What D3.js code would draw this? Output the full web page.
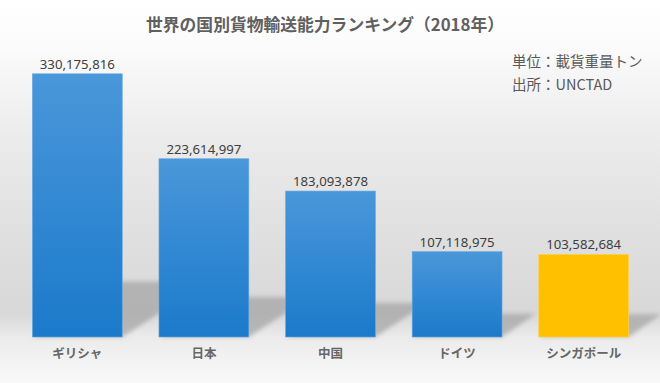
<!DOCTYPE html>
<html><head><meta charset="utf-8">
<script src="https://cdn.jsdelivr.net/npm/d3@7"></script>
<style>html,body{margin:0;padding:0;background:#fff;}svg{display:block;}</style>
</head><body>
<script>
const categories = ["ギリシャ","日本","中国","ドイツ","シンガポール"];
const values = [330175816, 223614997, 183093878, 107118975, 103582684];
const highlight = ["シンガポール"];
const title = "世界の国別貨物輸送能力ランキング（2018年）";
const notes = ["単位：載貨重量トン","出所：UNCTAD"];

const W = 660, H = 383;
const svg = d3.select("body").append("svg").attr("width", W).attr("height", H);
const defs = svg.append("defs");

const bg = defs.append("linearGradient").attr("id","bg").attr("x1",0).attr("y1",0).attr("x2",0).attr("y2",1);
[[0,"#ffffff"],[0.12,"#fbfbfb"],[0.35,"#ececec"],[0.6,"#e0e0e0"],[0.82,"#d8d8d8"],[0.88,"#ebebeb"],[1,"#f9f9f9"]]
  .forEach(([o,c])=>bg.append("stop").attr("offset",o).attr("stop-color",c));
svg.append("rect").attr("width",W).attr("height",H).attr("fill","url(#bg)");

const blue = defs.append("linearGradient").attr("id","blue").attr("x1",0).attr("y1",0).attr("x2",0).attr("y2",1);
blue.append("stop").attr("offset",0).attr("stop-color","#4a97da");
blue.append("stop").attr("offset",1).attr("stop-color","#1b7acb");

const blur = defs.append("filter").attr("id","blur").attr("x","-20%").attr("y","-20%").attr("width","140%").attr("height","140%");
blur.append("feGaussianBlur").attr("stdDeviation",2);

const x = d3.scaleBand().domain(categories).range([14, 647]).paddingInner(0.29).paddingOuter(0.145);
const y = d3.scaleLinear().domain([0, 350000000]).range([337, 58]);
const base = y(0);

const data = categories.map((c,i)=>({c, v: values[i]}));

// perspective shadows
svg.append("g").selectAll("path").data(data).join("path")
  .attr("fill","#a3a3a3").attr("opacity",0.7).attr("filter","url(#blur)")
  .attr("d", d => {
    const x0 = x(d.c), x1 = x0 + x.bandwidth();
    const h = base - y(d.v);
    const sh = 0.18*h + 8;
    const dx = 0.3*h + 8;
    return `M${x0},${base}L${x1},${base}L${x1+dx},${base-sh}L${x0+dx},${base-sh}Z`;
  });

// bars
svg.append("g").selectAll("rect").data(data).join("rect")
  .attr("x", d=>x(d.c)).attr("width", x.bandwidth())
  .attr("y", d=>y(d.v)).attr("height", d=>base - y(d.v))
  .attr("fill", d=> highlight.includes(d.c) ? "#ffc000" : "url(#blue)")
  .attr("stroke", d=> highlight.includes(d.c) ? "#ffd24d" : "#6aa9e0").attr("stroke-width",0.6);

// value labels
svg.append("g").selectAll("text").data(data).join("text")
  .attr("x", d=>x(d.c)+x.bandwidth()/2).attr("y", d=>y(d.v)-5)
  .attr("text-anchor","middle")
  .attr("font-family","'Noto Sans', 'Liberation Sans', sans-serif").attr("font-size",13.2)
  .attr("fill","#404040")
  .text(d=>d3.format(",")(d.v));

// category axis labels
const xAxis = d3.axisBottom(x).tickSize(0).tickPadding(12);
const gx = svg.append("g").attr("transform",`translate(0,${base})`).call(xAxis);
gx.select(".domain").remove();
gx.selectAll("text")
  .attr("font-family","'Noto Sans CJK JP', sans-serif").attr("font-size",12.5)
  .attr("font-weight",700).attr("fill","#666666");

// title
svg.append("text").attr("x",325).attr("y",31).attr("text-anchor","middle")
  .attr("font-family","'Noto Sans CJK JP', sans-serif").attr("font-size",16.8).attr("font-weight",700)
  .attr("fill","#606060").text(title);

// notes
svg.append("g").selectAll("text").data(notes).join("text")
  .attr("x",512).attr("y",(d,i)=>67+i*23)
  .attr("font-family","'Noto Sans CJK JP', sans-serif").attr("font-size",14.5)
  .attr("fill","#595959").text(d=>d);
</script>
</body></html>
